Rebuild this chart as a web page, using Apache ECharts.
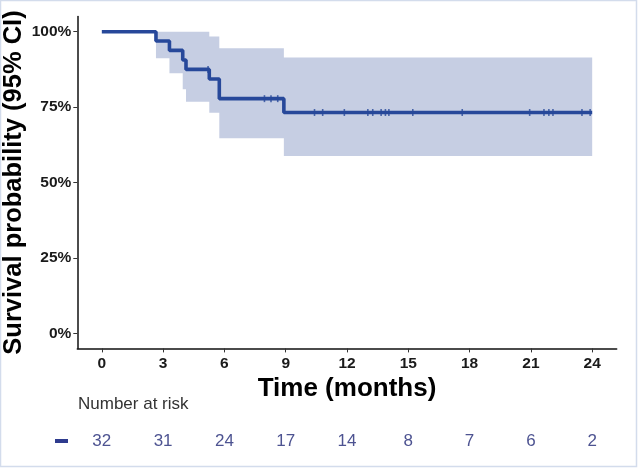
<!DOCTYPE html>
<html>
<head>
<meta charset="utf-8">
<title>Survival</title>
<script src="https://cdn.jsdelivr.net/npm/echarts@6/dist/echarts.min.js"></script>
<style>
  html, body { margin: 0; padding: 0; background: #fff; }
  #main { width: 639px; height: 468px; }
</style>
</head>
<body>
<div id="main"></div>
<script>
// Kaplan-Meier step curve (time in months, survival proportion)
var stepTimes = [0, 2.65, 3.31, 3.96, 4.12, 5.26, 5.75, 8.91, 24];
var stepSurv = [1, 0.969, 0.938, 0.906, 0.875, 0.843, 0.778, 0.732, 0.732];

// 95% CI band steps
var bandTimes = [2.65, 3.31, 3.96, 4.12, 5.26, 5.75, 8.91, 24];
var bandUpper = [1.0, 1.0, 1.0, 1.0, 0.984, 0.945, 0.914, 0.914];
var bandLower = [0.912, 0.862, 0.809, 0.768, 0.731, 0.647, 0.588, 0.588];

// censored observations
var censorTimes = [5.2, 7.96, 8.28, 8.61, 10.41, 10.81, 11.87, 13.02, 13.26, 13.67, 13.88,
  14.05, 15.22, 17.64, 20.94, 21.64, 21.88, 22.08, 23.5, 23.9];

// axis ticks and risk table
var xTicks = [0, 3, 6, 9, 12, 15, 18, 21, 24];
var yTicks = [0, 0.25, 0.5, 0.75, 1];
var riskCounts = [32, 31, 24, 17, 14, 8, 7, 6, 2];

var lineColor = '#27489a';
var fontFam = '"Liberation Sans", Arial, Helvetica, sans-serif';

function survAt(t) {
  var s = stepSurv[0];
  for (var i = 0; i < stepTimes.length; i++) {
    if (stepTimes[i] <= t) s = stepSurv[i];
  }
  return s;
}

var curveData = [];
for (var i = 0; i < stepTimes.length; i++) curveData.push([stepTimes[i], stepSurv[i]]);

var censorData = censorTimes.map(function (t) { return [t, survAt(t)]; });

function stepPoints(vals) {
  var pts = [];
  for (var i = 0; i < bandTimes.length; i++) {
    pts.push([bandTimes[i], vals[i]]);
    if (i < bandTimes.length - 1) pts.push([bandTimes[i + 1], vals[i]]);
  }
  return pts;
}

var myChart = echarts.init(document.getElementById('main'));
var option = {
  animation: false,
  backgroundColor: '#fff',
  grid: { left: 77.3, right: 22.3, top: 16.6, bottom: 119.6, outerBoundsMode: 'none' },
  xAxis: [{
    type: 'value',
    min: -1.2,
    max: 25.2,
    splitLine: { show: false },
    axisLine: { onZero: false, lineStyle: { color: '#111', width: 1.5 } },
    axisTick: { customValues: xTicks, length: 4, lineStyle: { color: '#333' } },
    axisLabel: { customValues: xTicks, margin: 7, color: '#1a1a1a', fontSize: 15.5, fontWeight: 'bold', fontFamily: fontFam },
    name: 'Time (months)',
    nameLocation: 'middle',
    nameGap: 27,
    nameMoveOverlap: false,
    nameTextStyle: { fontSize: 26, fontWeight: 'bold', color: '#000', fontFamily: fontFam }
  }, {
    // number-at-risk row, sharing the time scale
    type: 'value',
    position: 'bottom',
    offset: 84,
    min: -1.2,
    max: 25.2,
    splitLine: { show: false },
    axisLine: { show: false, onZero: false },
    axisTick: { show: false },
    axisLabel: {
      customValues: xTicks,
      margin: 0,
      color: '#4d5391',
      fontSize: 17,
      fontFamily: fontFam,
      formatter: function (v) {
        var k = xTicks.indexOf(v);
        return k >= 0 ? String(riskCounts[k]) : '';
      }
    }
  }],
  yAxis: {
    type: 'value',
    min: -0.05,
    max: 1.05,
    splitLine: { show: false },
    axisLine: { show: true, onZero: false, lineStyle: { color: '#111', width: 1.5 } },
    axisTick: { show: true, customValues: yTicks, length: 4, lineStyle: { color: '#333' } },
    axisLabel: {
      customValues: yTicks, margin: 6, color: '#1a1a1a', fontSize: 15.5, fontWeight: 'bold', fontFamily: fontFam,
      formatter: function (v) { return Math.round(v * 100) + '%'; }
    },
    name: 'Survival probability (95% CI)',
    nameLocation: 'middle',
    nameGap: 50,
    nameMoveOverlap: false,
    nameTextStyle: { fontSize: 25.5, fontWeight: 'bold', color: '#000', fontFamily: fontFam }
  },
  graphic: [{
    type: 'rect',
    shape: { x: 0.5, y: 0.5, width: 636, height: 466 },
    style: { fill: 'none', stroke: '#d3dcec', lineWidth: 1.5 },
    silent: true
  }, {
    type: 'text',
    left: 78,
    top: 396,
    style: { text: 'Number at risk', fontSize: 17, fill: '#333', fontFamily: fontFam }
  }, {
    type: 'rect',
    left: 55,
    top: 439,
    shape: { width: 13, height: 4 },
    style: { fill: '#2e3b8e' }
  }],
  series: [{
    type: 'custom',
    name: 'CI',
    xAxisIndex: 0,
    data: [0],
    silent: true,
    z: 1,
    renderItem: function (params, api) {
      var up = stepPoints(bandUpper);
      var lo = stepPoints(bandLower).reverse();
      var pts = up.concat(lo).map(function (p) { return api.coord(p); });
      return {
        type: 'polygon',
        shape: { points: pts },
        style: { fill: '#c6cee3', stroke: null }
      };
    }
  }, {
    type: 'line',
    name: 'Survival',
    step: 'end',
    data: curveData,
    showSymbol: false,
    lineStyle: { color: lineColor, width: 3.6 },
    z: 3
  }, {
    type: 'scatter',
    name: 'Censored',
    data: censorData,
    symbol: 'rect',
    symbolSize: [1.6, 7],
    itemStyle: { color: lineColor },
    z: 4
  }]
};
myChart.setOption(option);
</script>
</body>
</html>
